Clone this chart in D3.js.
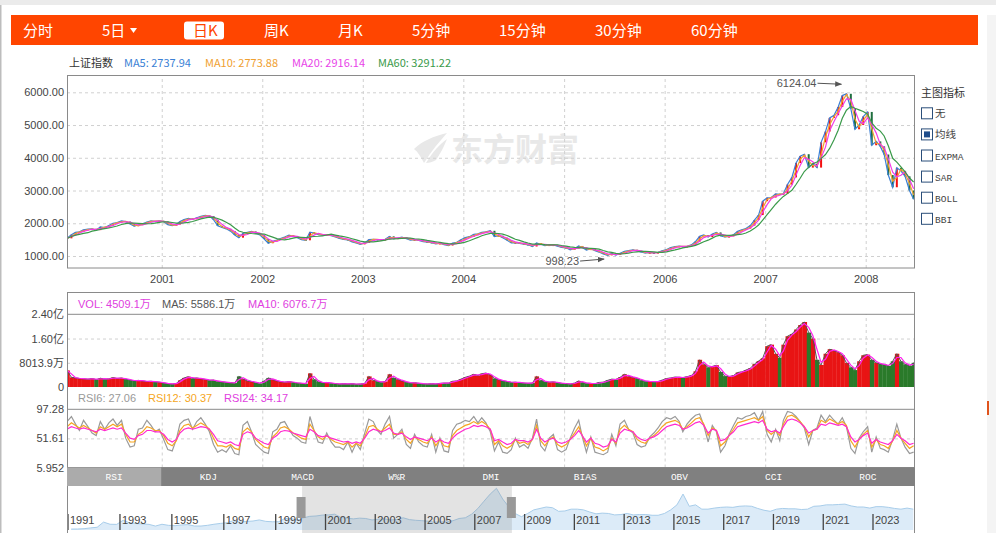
<!DOCTYPE html>
<html>
<head>
<meta charset="utf-8">
<script src="https://cdn.jsdelivr.net/npm/d3@7"></script>
<style>
body { margin: 0; background: #fff; }
</style>
</head>
<body>
<div id="chart"></div>
<script>
// ---- data: semi-monthly readings (2000 starts at the second half of January) ----
const yearsShown = [2000, 2001, 2002, 2003, 2004, 2005, 2006, 2007, 2008];

const close2000 = [1540,1650,1720,1740,1800,1820,1830,1790,1890,1870,1930,2000,2020,2070,2050,1980,1910,1950,1980,2040,2070,2060,2073];
const close2001 = [2050,1960,1930,1960,2050,2110,2150,2120,2170,2210,2240,2218,2110,1920,1870,1830,1760,1640,1560,1690,1720,1750,1700,1646];
const close2002 = [1520,1390,1450,1490,1530,1580,1640,1600,1560,1500,1480,1730,1700,1650,1640,1650,1620,1580,1540,1510,1490,1430,1400,1357];
const close2003 = [1400,1500,1510,1500,1490,1510,1600,1520,1550,1576,1530,1487,1500,1476,1440,1421,1410,1367,1390,1348,1320,1397,1420,1497];
const close2004 = [1560,1590,1660,1675,1720,1741,1770,1595,1620,1555,1480,1400,1410,1386,1360,1342,1290,1396,1360,1320,1340,1340,1300,1266];
const close2005 = [1250,1191,1230,1306,1260,1181,1220,1159,1120,1060,1020,1080,1030,1083,1140,1162,1190,1155,1120,1092,1100,1099,1110,1161];
const close2006 = [1200,1258,1290,1299,1290,1298,1340,1440,1600,1641,1580,1672,1720,1612,1580,1601,1650,1752,1800,1837,1930,2099,2250,2675];
const close2007 = [2780,2786,2900,2881,2900,3183,3400,3841,4050,4109,3700,3820,3700,4471,4800,5218,5300,5552,5900,5954,5500,4871,5000,5261];
const close2008 = [5400,4383,4500,4348,4100,3472,3100,3693,3600,3433,3000,2736];

// volume, 万
const vol2000 = [5500,3200,3000,2800,2700,2600,2800,2400,2900,2600,2700,3100,2800,3000,2600,2300,2000,2200,2000,1800,1900,1700,1600];
const vol2001 = [1300,1100,1000,1200,2200,3000,3400,2800,3000,2700,2500,2200,2300,1800,1700,1500,1400,1300,3500,2600,2000,1800,1400,1200];
const vol2002 = [2000,3000,2400,2000,1700,1600,1800,1500,1300,1200,1100,4500,2500,1700,1400,1500,1200,1100,1000,1100,1000,1100,900,1000];
const vol2003 = [1200,3500,2200,1800,1600,1800,4200,3000,2500,2000,1600,1300,1400,1200,1000,1000,1100,1000,1200,1300,1300,1900,2000,2600];
const vol2004 = [3200,3600,4200,3800,4400,4600,4000,2800,2400,2000,1800,1500,1600,1400,1300,1200,1300,3500,2200,1700,1600,1700,1400,1200];
const vol2005 = [1100,1000,1300,2000,1500,1200,1200,1100,1500,1600,2200,2600,2500,3200,4200,3500,3200,2800,2200,1900,1800,1700,1800,2300];
const vol2006 = [2800,3000,3300,3200,3100,3400,3800,5200,9000,7500,6500,6800,7200,5000,3600,3400,3800,4800,5000,5600,6200,7600,8600,9500];
const vol2007 = [13500,14000,11000,9700,14000,16800,17500,19000,20500,21500,18000,16000,9000,7300,11000,12500,12000,11500,10500,8000,6500,5600,8500,10500];
const vol2008 = [10700,9000,8000,7600,7400,7000,8500,11000,8500,7500,7000,8000];

const rsi6_2000 = [78,86,74,64,80,70,60,56,78,66,76,82,72,80,52,38,40,66,68,80,72,62,66];
const rsi6_2001 = [50,34,32,50,74,80,82,66,78,84,74,62,42,30,34,30,40,28,26,72,78,62,42,36];
const rsi6_2002 = [30,28,62,66,76,78,66,56,52,46,44,86,64,46,44,60,46,38,38,34,46,30,44,34];
const rsi6_2003 = [60,82,78,64,58,74,86,52,58,66,42,36,58,46,40,38,58,30,52,32,30,64,74,76];
const rsi6_2004 = [80,78,86,76,84,76,62,32,46,30,28,34,52,38,42,36,52,82,40,32,52,58,34,30];
const rsi6_2005 = [34,52,68,80,54,30,54,30,28,26,30,58,40,74,80,66,60,42,38,40,54,60,68,78];
const rsi6_2006 = [84,82,86,78,62,74,82,88,90,72,46,72,62,30,40,58,72,84,82,86,88,92,80,94];
const rsi6_2007 = [58,46,66,48,80,94,92,86,78,68,42,64,68,88,78,88,80,74,84,70,36,28,52,62];
const rsi6_2008 = [70,30,54,36,34,30,50,74,52,38,28,30];

const rsi12_2000 = [70,76,72,68,72,68,64,60,70,66,70,74,70,74,58,46,46,58,62,70,68,64,64];
const rsi12_2001 = [56,44,40,48,64,72,74,68,72,76,72,66,52,40,40,38,42,36,34,62,68,62,50,44];
const rsi12_2002 = [38,36,54,60,68,70,66,60,56,52,50,74,64,54,50,56,50,46,44,42,46,38,44,40];
const rsi12_2003 = [54,70,72,66,62,68,74,58,58,62,50,44,54,50,46,44,54,40,50,40,38,56,64,68];
const rsi12_2004 = [72,74,78,74,78,74,66,42,48,40,36,40,50,44,46,42,50,72,48,40,50,54,42,38];
const rsi12_2005 = [42,50,60,70,56,40,52,38,36,32,36,52,44,66,72,66,62,50,46,44,52,56,62,70];
const rsi12_2006 = [76,78,80,76,66,70,76,82,84,74,56,68,64,40,46,56,66,76,78,80,82,84,80,86];
const rsi12_2007 = [64,58,64,56,74,86,88,84,78,70,54,64,66,80,76,82,78,74,78,72,48,38,50,58];
const rsi12_2008 = [64,38,50,42,40,36,48,64,52,44,36,40];

const rsi24_2000 = [66,70,68,66,68,66,64,62,66,64,66,68,66,68,60,52,50,56,58,64,64,62,62];
const rsi24_2001 = [58,50,46,50,60,66,68,66,68,70,69,66,58,48,46,44,46,42,40,58,62,60,52,48];
const rsi24_2002 = [44,42,52,56,62,64,63,60,58,56,54,66,62,56,54,56,52,50,48,46,47,44,46,44];
const rsi24_2003 = [52,62,66,64,62,64,68,60,58,60,54,50,54,52,50,48,52,46,50,46,44,52,58,62];
const rsi24_2004 = [66,68,72,70,72,70,66,48,50,46,42,44,50,48,48,46,50,66,52,46,50,52,46,44];
const rsi24_2005 = [46,50,56,64,56,46,52,44,42,38,40,50,46,60,66,64,62,54,50,48,52,54,58,64];
const rsi24_2006 = [70,72,74,72,66,68,72,76,78,72,60,66,64,48,50,56,62,70,72,74,76,78,76,80];
const rsi24_2007 = [66,62,64,60,70,80,82,80,76,70,60,64,66,74,72,76,74,72,74,70,54,46,50,56];
const rsi24_2008 = [60,44,50,46,44,42,48,58,52,48,42,44];

// navigator: quarterly readings 1991 Q1 .. 2024 Q3
const navStartYear = 1991;
const navClose = [
  130,135,180,292, 380,1100,800,780, 1350,1000,900,833, 780,550,800,647,
  600,700,750,555, 550,650,800,917, 1000,1300,1100,1190, 1250,1400,1200,1146,
  1150,1600,1600,1367, 1700,1900,1950,2073, 2100,2200,1750,1646, 1550,1650,1600,1400,
  1500,1550,1400,1450, 1700,1450,1350,1300, 1220,1080,1130,1130, 1290,1600,1700,2200,
  3000,4000,5000,5800, 4300,3200,2300,1850, 2300,2800,3000,3200, 3100,2600,2650,2900,
  2900,2800,2500,2250, 2350,2300,2100,2150, 2300,2100,2150,2150, 2050,2050,2300,2800,
  3500,5000,3300,3500, 2900,2900,3050,3150, 3200,3150,3300,3350, 3300,3000,2750,2600,
  2900,3000,2950,2950, 2850,2900,3300,3350, 3500,3500,3550,3600, 3350,3200,3200,3050,
  3250,3250,3150,3000, 2900,3050,2900
];

const priceTicks = [1000, 2000, 3000, 4000, 5000, 6000];
const volTickValues = [0, 8013.9, 16027.8, 24041.7];
const volTickLabels = ["0", "8013.9万", "1.60亿", "2.40亿"];
const rsiTickValues = [5.952, 51.61, 97.28];
const mainYears = [2001, 2002, 2003, 2004, 2005, 2006, 2007, 2008];
const navYears = [1991,1993,1995,1997,1999,2001,2003,2005,2007,2009,2011,2013,2015,2017,2019,2021,2023];

const toolbarItems = ["分时", "5日", "日K", "周K", "月K", "5分钟", "15分钟", "30分钟", "60分钟"];
const toolbarX = [23, 102, 193, 264, 338, 412, 499, 595, 691];
const tabNames = ["RSI", "KDJ", "MACD", "W%R", "DMI", "BIAS", "OBV", "CCI", "ROC"];
const indicatorOptions = ["无", "均线", "EXPMA", "SAR", "BOLL", "BBI"];
const extremes = [
  {label: "6124.04", date: new Date(2007, 9, 16), value: 6124.04, dy: -4},
  {label: "998.23", date: new Date(2005, 5, 6), value: 998.23, dy: 3}
];

// ---- build periods ----
const closeByYear = [close2000, close2001, close2002, close2003, close2004, close2005, close2006, close2007, close2008];
const volByYear = [vol2000, vol2001, vol2002, vol2003, vol2004, vol2005, vol2006, vol2007, vol2008];
const rsi6ByYear = [rsi6_2000, rsi6_2001, rsi6_2002, rsi6_2003, rsi6_2004, rsi6_2005, rsi6_2006, rsi6_2007, rsi6_2008];
const rsi12ByYear = [rsi12_2000, rsi12_2001, rsi12_2002, rsi12_2003, rsi12_2004, rsi12_2005, rsi12_2006, rsi12_2007, rsi12_2008];
const rsi24ByYear = [rsi24_2000, rsi24_2001, rsi24_2002, rsi24_2003, rsi24_2004, rsi24_2005, rsi24_2006, rsi24_2007, rsi24_2008];

const periods = [];
yearsShown.forEach((yr, yi) => {
    const off = yr === 2000 ? 1 : 0;
    closeByYear[yi].forEach((c, j) => {
        const s = j + off, m = Math.floor(s / 2), h = s % 2;
        periods.push({
            date: new Date(yr, m, h ? 23 : 8),
            start: new Date(yr, m, h ? 16 : 1),
            end: h ? new Date(yr, m + 1, 1) : new Date(yr, m, 16),
            close: c,
            vol: volByYear[yi][j],
            rsi6: rsi6ByYear[yi][j],
            rsi12: rsi12ByYear[yi][j],
            rsi24: rsi24ByYear[yi][j]
        });
    });
});
periods.forEach((p, i) => { p.open = i ? periods[i - 1].close : p.close; });

// moving averages (window in half-month periods)
function rolling(key, k) {
    return periods.map((p, i) => d3.mean(periods.slice(Math.max(0, i - k + 1), i + 1), d => d[key]));
}
const ma5 = rolling("close", 1), ma10 = rolling("close", 2), ma20 = rolling("close", 3), ma60 = rolling("close", 6);
const vma5 = rolling("vol", 1), vma10 = rolling("vol", 2);

// ---- layout ----
const W = 996, H = 533;
const plotL = 67, plotR = 915;

const svg = d3.select("#chart").append("svg")
    .attr("width", W).attr("height", H)
    .style("font-family", '"Liberation Sans", Arial, sans-serif');

// page chrome
svg.append("rect").attr("x", 0).attr("y", 0).attr("width", W).attr("height", 5).attr("fill", "#ebebeb");
svg.append("rect").attr("x", 0).attr("y", 5).attr("width", 1.5).attr("height", H).attr("fill", "#bdbdbd");
svg.append("rect").attr("x", 987).attr("y", 15).attr("width", 9).attr("height", H).attr("fill", "#f4f4f4");
svg.append("rect").attr("x", 987).attr("y", 401).attr("width", 2).attr("height", 14).attr("fill", "#e0531c");

// toolbar
svg.append("rect").attr("x", 11).attr("y", 15).attr("width", 967).attr("height", 30).attr("fill", "#ff4500");
svg.append("rect").attr("x", 184).attr("y", 21.5).attr("width", 40).attr("height", 18).attr("rx", 3).attr("fill", "#fff");
svg.selectAll(".tb").data(toolbarItems).join("text")
    .attr("x", (d, i) => toolbarX[i]).attr("y", 35.5)
    .attr("fill", d => d === "日K" ? "#ff4500" : "#fff")
    .style("font-size", "15px")
    .style("font-family", '"Noto Sans CJK SC", "Liberation Sans", sans-serif')
    .text(d => d);
svg.append("path").attr("d", "M130,28 L137,28 L133.5,33 Z").attr("fill", "#fff");

// legend above main chart
const mainLegend = [
    {t: "上证指数", c: "#333", x: 69},
    {t: "MA5: 2737.94", c: "#3a7fd5", x: 124},
    {t: "MA10: 2773.88", c: "#f0a030", x: 205},
    {t: "MA20: 2916.14", c: "#e843e8", x: 292},
    {t: "MA60: 3291.22", c: "#3a9a4a", x: 378}
];
svg.selectAll(".ml").data(mainLegend).join("text")
    .attr("x", d => d.x).attr("y", 67).attr("fill", d => d.c)
    .style("font-size", "11px")
    .style("font-family", '"Noto Sans CJK SC", "Liberation Sans", sans-serif')
    .text(d => d.t);

// scales
const x = d3.scaleTime().domain([new Date(2000, 0, 23), new Date(2008, 5, 28)]).range([plotL, plotR]);
const yMain = d3.scaleLinear().domain([1000, 6000]).range([256, 92.3]);
const yVol = d3.scaleLinear().domain([0, 24041.7]).range([387, 314.3]);
const yRsi = d3.scaleLinear().domain([5.952, 97.28]).range([467.5, 409.3]);
const xNav = d3.scaleTime()
    .domain([new Date(1991, 0, 1), new Date(1999, 0, 1), new Date(2023, 0, 1)])
    .range([68, 275.7, 873]);
const yNav = d3.scaleLinear().domain([0, 6124]).range([530, 486]);

const defs = svg.append("defs");
defs.append("clipPath").attr("id", "clipMain").append("rect")
    .attr("x", plotL).attr("y", 75).attr("width", plotR - plotL).attr("height", 193);
defs.append("clipPath").attr("id", "clipVol").append("rect")
    .attr("x", plotL).attr("y", 314).attr("width", plotR - plotL).attr("height", 74);
defs.append("clipPath").attr("id", "clipRsi").append("rect")
    .attr("x", plotL).attr("y", 409).attr("width", plotR - plotL).attr("height", 58.5);
defs.append("clipPath").attr("id", "clipNav").append("rect")
    .attr("x", plotL).attr("y", 486).attr("width", plotR - plotL).attr("height", 47);
defs.append("marker").attr("id", "arrow").attr("viewBox", "0 0 10 10")
    .attr("refX", 9).attr("refY", 5).attr("markerWidth", 7).attr("markerHeight", 7)
    .attr("orient", "auto")
    .append("path").attr("d", "M0,1 L10,5 L0,9 Z").attr("fill", "#555");

const yearDates = mainYears.map(y => new Date(y, 0, 1));
const dash = "3,3";

// ---- main price panel ----
// watermark
const wm = svg.append("g").attr("fill", "#e8e8e8");
wm.append("path").attr("d", "M414,149 C422,141 434,136 447,133 C440,141 431,151 424,163 C421,157 418,152 414,149 Z");
wm.append("path").attr("d", "M426,163 C433,151 440,144 447,139 C444,147 440,154 436,160 C433,162 429,163 426,163 Z");
wm.append("text").attr("x", 451).attr("y", 161)
    .style("font-size", "32px").style("font-weight", "bold")
    .style("font-family", '"Noto Sans CJK SC", sans-serif')
    .text("东方财富");

// grid
svg.append("g").attr("transform", `translate(${plotL},0)`)
    .call(d3.axisLeft(yMain).tickValues(priceTicks).tickSize(-(plotR - plotL)).tickFormat(""))
    .call(g => g.select(".domain").remove())
    .call(g => g.selectAll("line").attr("stroke", "#d0d0d0").attr("stroke-dasharray", dash));
[[75, 268], [314, 387], [409, 467.5]].forEach(([t, b]) => {
    svg.append("g").attr("transform", `translate(0,${b})`)
        .call(d3.axisBottom(x).tickValues(yearDates).tickSize(-(b - t)).tickFormat(""))
        .call(g => g.select(".domain").remove())
        .call(g => g.selectAll("line").attr("stroke", "#d0d0d0").attr("stroke-dasharray", dash));
});

// axis labels
svg.append("g").attr("transform", `translate(${plotL},0)`)
    .call(d3.axisLeft(yMain).tickValues(priceTicks).tickSize(0).tickPadding(3).tickFormat(d3.format(".2f")))
    .call(g => g.select(".domain").remove())
    .call(g => g.selectAll("text").attr("fill", "#444").style("font-size", "11px"));
svg.append("g").attr("transform", "translate(0,268)")
    .call(d3.axisBottom(x).tickValues(yearDates).tickSize(0).tickPadding(7).tickFormat(d3.timeFormat("%Y")))
    .call(g => g.select(".domain").remove())
    .call(g => g.selectAll("text").attr("fill", "#444").style("font-size", "11px"));

// candles
const UP = "#f31010", DOWN = "#1f6f3f";
const mainG = svg.append("g").attr("clip-path", "url(#clipMain)");
mainG.selectAll(".candle").data(periods).join("rect")
    .attr("x", d => x(d.date) - 1)
    .attr("width", 2)
    .attr("y", d => yMain(Math.max(d.open, d.close)))
    .attr("height", d => Math.max(1.2, Math.abs(yMain(d.open) - yMain(d.close))))
    .attr("fill", d => d.close >= d.open ? UP : DOWN);

const maLine = vals => d3.line().x((d, i) => x(periods[i].date)).y(d => yMain(d))(vals);
[[ma5, "#3a7fd5"], [ma10, "#f0a030"], [ma20, "#f23ce6"], [ma60, "#3a9a4a"]].forEach(([vals, c]) => {
    mainG.append("path").attr("d", maLine(vals)).attr("fill", "none")
        .attr("stroke", c).attr("stroke-width", 1.2);
});

// extreme annotations
extremes.forEach(e => {
    const ex = x(e.date), ey = yMain(e.value) + e.dy;
    const tx = ex - 27, ty = ey - (e.dy < 0 ? 1 : -2);
    svg.append("line").attr("x1", tx).attr("y1", ty).attr("x2", ex - 3).attr("y2", ey)
        .attr("stroke", "#555").attr("stroke-width", 1).attr("marker-end", "url(#arrow)");
    svg.append("text").attr("x", tx - 1).attr("y", ty + 4).attr("text-anchor", "end")
        .attr("fill", "#555").style("font-size", "11px").text(e.label);
});

svg.append("rect").attr("x", plotL + 0.5).attr("y", 75.5).attr("width", plotR - plotL - 1).attr("height", 192.5)
    .attr("fill", "none").attr("stroke", "#8a8a8a");

// indicator side panel
svg.append("text").attr("x", 921).attr("y", 97).attr("fill", "#333")
    .style("font-size", "11px").style("font-family", '"Noto Sans CJK SC", sans-serif').text("主图指标");
const opt = svg.selectAll(".opt").data(indicatorOptions).join("g")
    .attr("transform", (d, i) => `translate(921,${113.3 + i * 21.1})`);
opt.append("rect").attr("x", 0.5).attr("y", -5.5).attr("width", 11).attr("height", 11)
    .attr("fill", "#fff").attr("stroke", "#2b4f7a");
opt.filter(d => d === "均线").append("rect").attr("x", 3).attr("y", -3).attr("width", 6).attr("height", 6)
    .attr("fill", "#1f4e8c");
opt.append("text").attr("x", 14).attr("y", 4).attr("fill", "#444")
    .style("font-size", d => /[A-Z]/.test(d) ? "9.5px" : "10.5px")
    .style("font-family", d => /[A-Z]/.test(d) ? '"Liberation Mono", monospace' : '"Noto Sans CJK SC", sans-serif')
    .text(d => d);

// ---- volume panel ----
svg.append("g").attr("transform", `translate(${plotL},0)`)
    .call(d3.axisLeft(yVol).tickValues(volTickValues.slice(1, 3)).tickSize(-(plotR - plotL)).tickFormat(""))
    .call(g => g.select(".domain").remove())
    .call(g => g.selectAll("line").attr("stroke", "#d0d0d0").attr("stroke-dasharray", dash));
svg.append("g").attr("transform", `translate(${plotL},0)`)
    .call(d3.axisLeft(yVol).tickValues(volTickValues).tickSize(0).tickPadding(3)
        .tickFormat((d, i) => volTickLabels[i]))
    .call(g => g.select(".domain").remove())
    .call(g => g.selectAll("text").attr("fill", "#444").style("font-size", "11px")
        .style("font-family", '"Liberation Sans", "Noto Sans CJK SC", sans-serif'));

const volG = svg.append("g").attr("clip-path", "url(#clipVol)");
volG.selectAll(".vbar").data(periods).join("rect")
    .attr("x", d => x(d.start))
    .attr("width", d => x(d.end) - x(d.start) + 0.3)
    .attr("y", d => yVol(d.vol))
    .attr("height", d => yVol(0) - yVol(d.vol))
    .attr("fill", d => d.close >= d.open ? "#e81414" : "#2a7a2a");
const vLine = vals => d3.line().x((d, i) => x(periods[i].date)).y(d => yVol(d))(vals);
volG.append("path").attr("d", vLine(vma5)).attr("fill", "none").attr("stroke", "#555").attr("stroke-width", 1);
volG.append("path").attr("d", vLine(vma10)).attr("fill", "none").attr("stroke", "#ff22ee").attr("stroke-width", 1.2);

const volLegend = [
    {t: "VOL: 4509.1万", c: "#e040e0", x: 78},
    {t: "MA5: 5586.1万", c: "#555", x: 162},
    {t: "MA10: 6076.7万", c: "#e040e0", x: 248}
];
svg.selectAll(".vl").data(volLegend).join("text")
    .attr("x", d => d.x).attr("y", 308).attr("fill", d => d.c)
    .style("font-size", "11px").style("font-family", '"Liberation Sans", "Noto Sans CJK SC", sans-serif')
    .text(d => d.t);

// ---- RSI panel ----
svg.append("g").attr("transform", `translate(${plotL},0)`)
    .call(d3.axisLeft(yRsi).tickValues([rsiTickValues[1]]).tickSize(-(plotR - plotL)).tickFormat(""))
    .call(g => g.select(".domain").remove())
    .call(g => g.selectAll("line").attr("stroke", "#d0d0d0").attr("stroke-dasharray", dash));
svg.append("g").attr("transform", `translate(${plotL},0)`)
    .call(d3.axisLeft(yRsi).tickValues(rsiTickValues).tickSize(0).tickPadding(3).tickFormat(d => String(d)))
    .call(g => g.select(".domain").remove())
    .call(g => g.selectAll("text").attr("fill", "#444").style("font-size", "11px"));

const rsiG = svg.append("g").attr("clip-path", "url(#clipRsi)");
[["rsi6", "#9a9a9a"], ["rsi12", "#f5a623"], ["rsi24", "#ff2ad0"]].forEach(([k, c]) => {
    rsiG.append("path")
        .attr("d", d3.line().x(d => x(d.date)).y(d => yRsi(d[k]))(periods))
        .attr("fill", "none").attr("stroke", c).attr("stroke-width", 1.2);
});

const rsiLegend = [
    {t: "RSI6: 27.06", c: "#999", x: 78},
    {t: "RSI12: 30.37", c: "#f5a623", x: 148},
    {t: "RSI24: 34.17", c: "#e040e0", x: 224}
];
svg.selectAll(".rl").data(rsiLegend).join("text")
    .attr("x", d => d.x).attr("y", 402).attr("fill", d => d.c)
    .style("font-size", "11px").text(d => d.t);

// panel borders
svg.append("rect").attr("x", plotL + 0.5).attr("y", 292.5).attr("width", plotR - plotL - 1).attr("height", 175)
    .attr("fill", "none").attr("stroke", "#8a8a8a");
[314.3, 409.3].forEach(y => svg.append("line").attr("x1", plotL).attr("x2", plotR)
    .attr("y1", y).attr("y2", y).attr("stroke", "#8a8a8a"));

// ---- indicator tabs ----
const tabW = (plotR - plotL) / tabNames.length;
svg.append("rect").attr("x", plotL).attr("y", 467.5).attr("width", plotR - plotL).attr("height", 18.5).attr("fill", "#808080");
svg.append("rect").attr("x", plotL).attr("y", 467.5).attr("width", tabW).attr("height", 18.5).attr("fill", "#ababab");
svg.selectAll(".tab").data(tabNames).join("text")
    .attr("x", (d, i) => plotL + tabW * (i + 0.5)).attr("y", 480)
    .attr("text-anchor", "middle").attr("fill", "#fff")
    .style("font-size", "9.5px").style("font-family", '"Liberation Mono", monospace')
    .text(d => d);

// ---- navigator ----
const navData = navClose.map((v, i) => ({
    date: new Date(navStartYear + Math.floor(i / 4), (i % 4) * 3 + 1, 15), v
}));
const navG = svg.append("g").attr("clip-path", "url(#clipNav)");
navG.append("path")
    .attr("d", d3.area().x(d => xNav(d.date)).y0(yNav(0)).y1(d => yNav(d.v))(navData))
    .attr("fill", "#dcebf8");
navG.append("path")
    .attr("d", d3.line().x(d => xNav(d.date)).y(d => yNav(d.v))(navData))
    .attr("fill", "none").attr("stroke", "#a8cdea").attr("stroke-width", 1);

const selL = xNav(x.domain()[0]), selR = xNav(x.domain()[1]);
svg.append("rect").attr("x", selL).attr("y", 486).attr("width", selR - selL).attr("height", 47)
    .attr("fill", "#8c8c8c").attr("opacity", 0.24);

svg.selectAll(".nt").data(navYears).join("line")
    .attr("x1", d => xNav(new Date(d, 0, 1))).attr("x2", d => xNav(new Date(d, 0, 1)))
    .attr("y1", 514).attr("y2", 530).attr("stroke", "#444").attr("stroke-width", 1.3);
svg.selectAll(".nl").data(navYears).join("text")
    .attr("x", d => xNav(new Date(d, 0, 1)) + 2).attr("y", 523.5)
    .attr("fill", "#444").style("font-size", "11px").text(d => d);

[selL - 5.5, selR - 5].forEach(hx => {
    svg.append("rect").attr("x", hx).attr("y", 497).attr("width", 9).attr("height", 21).attr("fill", "#999");
});

svg.append("line").attr("x1", plotL + 0.5).attr("x2", plotL + 0.5).attr("y1", 486).attr("y2", H).attr("stroke", "#8a8a8a");
svg.append("line").attr("x1", plotR - 0.5).attr("x2", plotR - 0.5).attr("y1", 486).attr("y2", H).attr("stroke", "#8a8a8a");
</script>
</body>
</html>
